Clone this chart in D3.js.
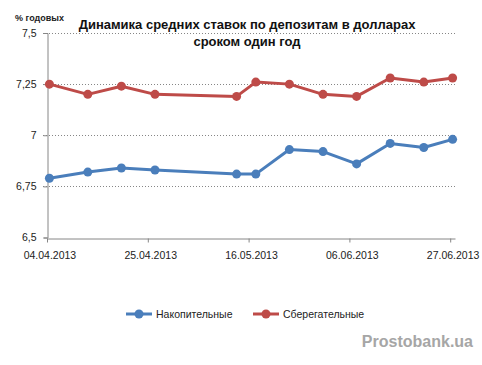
<!DOCTYPE html>
<html>
<head>
<meta charset="utf-8">
<script src="https://cdn.jsdelivr.net/npm/d3@7"></script>
<style>
body { margin: 0; background: #fff; }
svg { display: block; font-family: "Liberation Sans", Arial, sans-serif; }
</style>
</head>
<body>
<div id="chart"></div>
<script>
var dates = ["04.04.2013","12.04.2013","19.04.2013","26.04.2013","13.05.2013","17.05.2013",
             "24.05.2013","31.05.2013","07.06.2013","14.06.2013","21.06.2013","27.06.2013"];
var nakopitelnye = [6.79, 6.82, 6.84, 6.83, 6.81, 6.81, 6.93, 6.92, 6.86, 6.96, 6.94, 6.98];
var sberegatelnye = [7.25, 7.20, 7.24, 7.20, 7.19, 7.26, 7.25, 7.20, 7.19, 7.28, 7.26, 7.28];
var xTickLabels = ["04.04.2013","25.04.2013","16.05.2013","06.06.2013","27.06.2013"];
var yTicks = [6.5, 6.75, 7, 7.25, 7.5];
var seriesNames = ["Накопительные", "Сберегательные"];
var seriesColors = ["#4a7ebb", "#be4b48"];

var parseDate = d3.timeParse("%d.%m.%Y");
var halfDay = 12*3600*1000;

var width = 482, height = 365;
var svg = d3.select("#chart").append("svg")
    .attr("width", width)
    .attr("height", height);

// Excel-style date axis: each day is a slot, points at the middle of it
var x = d3.scaleTime()
    .domain([parseDate("04.04.2013"), parseDate("28.06.2013")])
    .range([47, 455]);
var y = d3.scaleLinear()
    .domain([6.5, 7.5])
    .range([237.5, 33]);

var axisColor = "#868686";

// gridlines
svg.append("g")
    .selectAll("line")
    .data(yTicks.filter(function(d){ return d > 6.5; }))
    .enter().append("line")
    .attr("x1", 43)
    .attr("x2", 455)
    .attr("y1", function(d){ return Math.round(y(d)) + 0.5; })
    .attr("y2", function(d){ return Math.round(y(d)) + 0.5; })
    .style("stroke", axisColor)
    .style("stroke-dasharray", "1,2");

// y axis
var yAxis = svg.append("g")
    .attr("transform", "translate(47.5,0)")
    .call(d3.axisLeft(y).tickValues(yTicks).tickSize(4).tickPadding(7)
        .tickFormat(function(d){ return String(d).replace(".", ","); }));
yAxis.select(".domain").style("stroke", axisColor);
yAxis.selectAll(".tick line").style("stroke", axisColor);
yAxis.selectAll("text").style("font-size", "10.5px").style("fill", "#222");

// x axis
var xAxis = svg.append("g")
    .attr("transform", "translate(0," + (Math.round(y(6.5)) + 0.5) + ")")
    .call(d3.axisBottom(x).tickValues(xTickLabels.map(parseDate)).tickSize(4).tickSizeOuter(0).tickPadding(9)
        .tickFormat(d3.timeFormat("%d.%m.%Y")));
xAxis.select(".domain").style("stroke", axisColor);
xAxis.selectAll(".tick line").style("stroke", axisColor);
xAxis.selectAll("text")
    .attr("dx", 2.4)
    .style("font-size", "10.5px")
    .style("fill", "#222");

// series
var line = d3.line()
    .x(function(d){ return x(new Date(parseDate(d.date).getTime() + halfDay)); })
    .y(function(d){ return y(d.value); });

[nakopitelnye, sberegatelnye].forEach(function(values, i){
    var data = values.map(function(v, k){ return {date: dates[k], value: v}; });
    svg.append("path")
        .datum(data)
        .attr("d", line)
        .style("fill", "none")
        .style("stroke", seriesColors[i])
        .style("stroke-width", 3)
        .style("stroke-linejoin", "round");
    svg.append("g").selectAll("circle")
        .data(data)
        .enter().append("circle")
        .attr("cx", function(d){ return x(new Date(parseDate(d.date).getTime() + halfDay)); })
        .attr("cy", function(d){ return y(d.value); })
        .attr("r", 4.5)
        .style("fill", seriesColors[i]);
});

// title
svg.append("text")
    .attr("x", 247)
    .attr("y", 29)
    .attr("text-anchor", "middle")
    .style("font-size", "13px")
    .style("font-weight", "bold")
    .style("fill", "#111")
    .text("Динамика средних ставок по депозитам в долларах");
svg.append("text")
    .attr("x", 247)
    .attr("y", 46)
    .attr("text-anchor", "middle")
    .style("font-size", "13px")
    .style("font-weight", "bold")
    .style("fill", "#111")
    .text("сроком один год");

svg.append("text")
    .attr("x", 15)
    .attr("y", 21)
    .style("font-size", "9px")
    .style("font-weight", "bold")
    .style("fill", "#222")
    .text("% годовых");

// legend
var legendX = [126, 253];
seriesNames.forEach(function(name, i){
    var g = svg.append("g").attr("transform", "translate(" + legendX[i] + ",314)");
    g.append("line")
        .attr("x1", 0).attr("x2", 26)
        .style("stroke", seriesColors[i])
        .style("stroke-width", 3);
    g.append("circle")
        .attr("cx", 13)
        .attr("r", 4.5)
        .style("fill", seriesColors[i]);
    g.append("text")
        .attr("x", 30)
        .attr("dy", "0.35em")
        .style("font-size", "10.5px")
        .style("fill", "#222")
        .text(name);
});

svg.append("text")
    .attr("x", 473)
    .attr("y", 347)
    .attr("text-anchor", "end")
    .style("font-size", "16px")
    .style("font-weight", "bold")
    .style("fill", "#a6a6a6")
    .text("Prostobank.ua");
</script>
</body>
</html>
